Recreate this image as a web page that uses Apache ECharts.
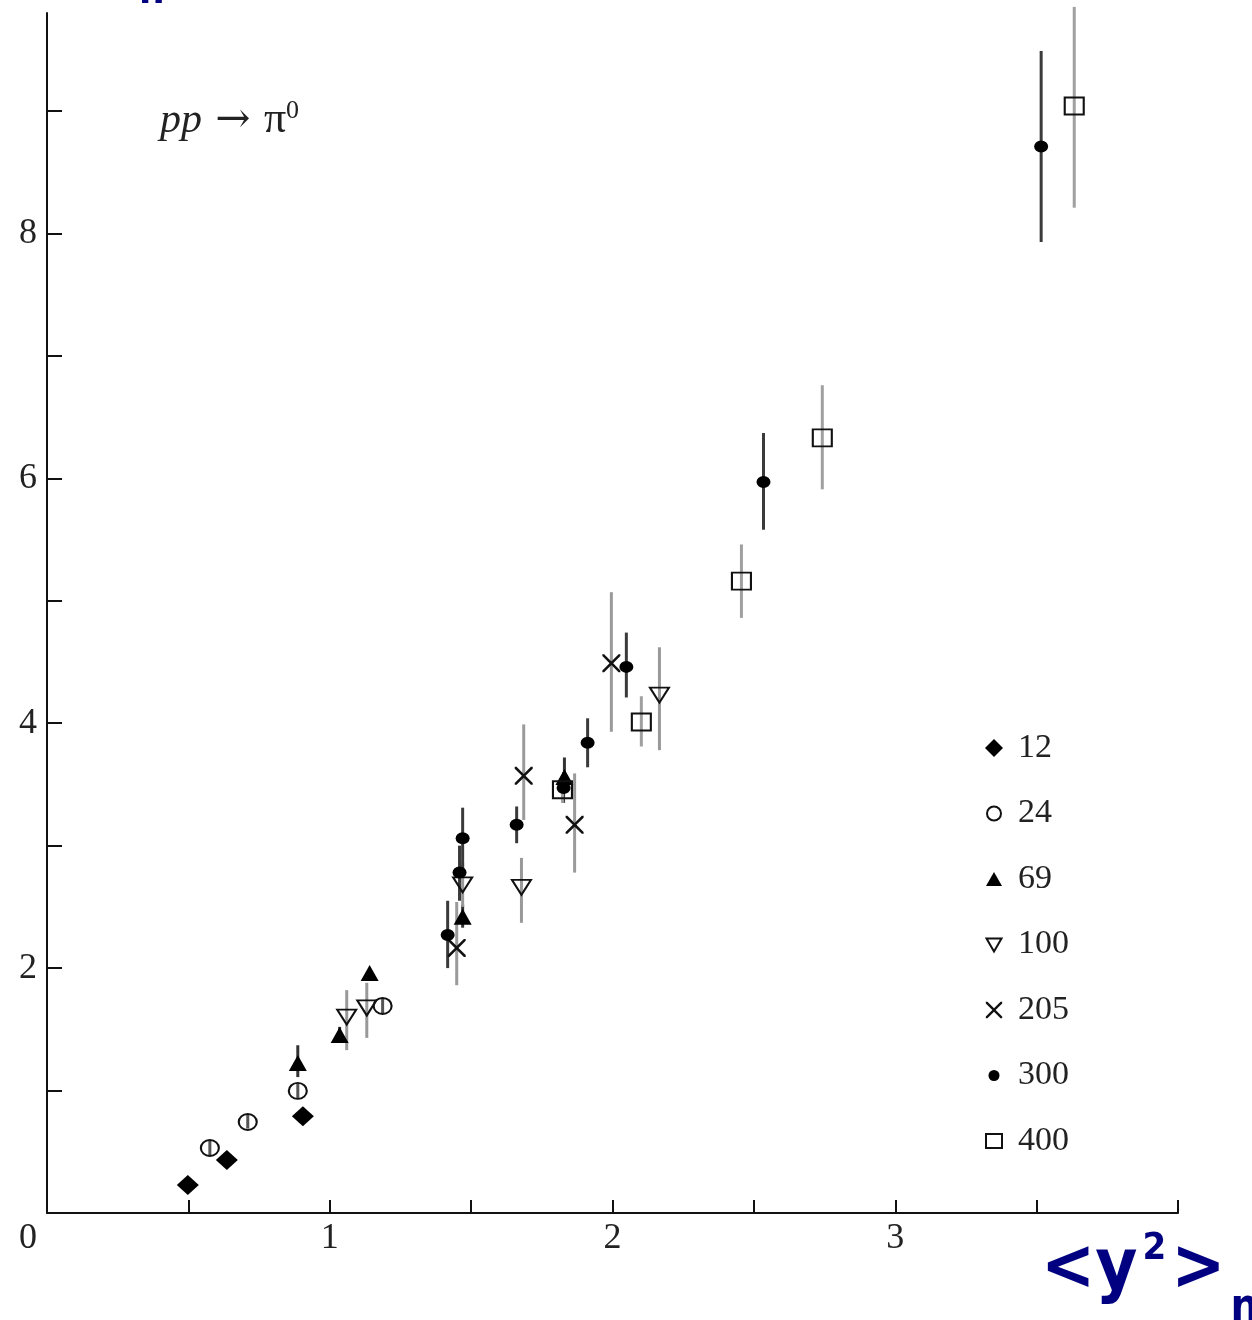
<!DOCTYPE html>
<html>
<head>
<meta charset="utf-8">
<script src="https://cdn.jsdelivr.net/npm/echarts@6/dist/echarts.min.js"></script>
<style>
html,body{margin:0;padding:0;background:#fff;}
#chart{width:1252px;height:1320px;}
</style>
</head>
<body>
<div id="chart"></div>
<script>
// ---------- data ----------
const seriesNames = ['12', '24', '69', '100', '205', '300', '400'];

const x12 = [0.498, 0.636, 0.905];
const y12 = [0.229, 0.433, 0.790];
const lo12 = [null, null, null];
const hi12 = [null, null, null];

const x24 = [0.576, 0.710, 0.887, 1.187];
const y24 = [0.531, 0.743, 0.997, 1.691];
const lo24 = [0.47, 0.69, 0.93, 1.63];
const hi24 = [0.59, 0.80, 1.06, 1.75];

const x69 = [0.887, 1.035, 1.141, 1.470, 1.830];
const y69 = [1.225, 1.454, 1.960, 2.420, 3.560];
const lo69 = [1.11, 1.40, null, 2.33, 3.45];
const hi69 = [1.37, 1.52, null, 2.52, 3.72];

const x100 = [1.060, 1.131, 1.470, 1.678, 2.166];
const y100 = [1.600, 1.675, 2.680, 2.660, 4.230];
const lo100 = [1.33, 1.43, 2.50, 2.37, 3.78];
const hi100 = [1.82, 1.88, 2.86, 2.90, 4.62];

const x205 = [1.449, 1.686, 1.866, 1.996];
const y205 = [2.165, 3.570, 3.170, 4.490];
const lo205 = [1.86, 3.21, 2.78, 3.93];
const hi205 = [2.54, 3.99, 3.59, 5.07];

const x300 = [1.417, 1.459, 1.470, 1.661, 1.827, 1.912, 2.049, 2.534, 3.516];
const y300 = [2.27, 2.78, 3.06, 3.17, 3.47, 3.84, 4.46, 5.97, 8.71];
const lo300 = [2.00, 2.55, 2.78, 3.02, 3.35, 3.64, 4.21, 5.58, 7.93];
const hi300 = [2.55, 3.00, 3.31, 3.32, 3.60, 4.04, 4.74, 6.37, 9.49];

const x400 = [1.823, 2.102, 2.456, 2.742, 3.633];
const y400 = [3.456, 4.010, 5.160, 6.330, 9.040];
const lo400 = [3.35, 3.81, 4.86, 5.91, 8.21];
const hi400 = [3.56, 4.22, 5.46, 6.76, 9.85];

const xTickValues = [0.5, 1, 1.5, 2, 2.5, 3, 3.5, 4];
const xLabelValues = [0, 1, 2, 3];
const yTickValues = [1, 2, 3, 4, 5, 6, 7, 8, 9];
const yLabelValues = [2, 4, 6, 8];

// ---------- styles ----------
const CROSS = 'path://M0,0 L2,0 L10,8 L18,0 L20,0 L20,2 L12,10 L20,18 L20,20 L18,20 L10,12 L2,20 L0,20 L0,18 L8,10 L0,2 Z';
const DOWNTRI = 'path://M0,0 L20,0 L10,17 Z';
// legend-only icons; the leading move points set the icon box so the glyph draws smaller
const LEG_CIRCLE = 'path://M0,0 M18,18 M9,2 A7,7 0 1 1 9,16 A7,7 0 1 1 9,2 Z';
const LEG_DOT = 'path://M0,0 M18,18 M9,3.5 A5.5,5.5 0 1 1 9,14.5 A5.5,5.5 0 1 1 9,3.5 Z';
const LEG_TRI = 'path://M0,0 M18,18 M9,2 L17,16 L1,16 Z';
const LEG_DOWN = 'path://M0,0 M18,18 M1.5,3 L16.5,3 L9,16 Z';
const LEG_RECT = 'path://M0,0 M18,18 M1,2 L17,2 L17,16 L1,16 Z';
const LEG_CROSS = 'path://M-1,-1 M21,21 M0,0 L2,0 L10,8 L18,0 L20,0 L20,2 L12,10 L20,18 L20,20 L18,20 L10,12 L2,20 L0,20 L0,18 L8,10 L0,2 Z';

const styles = {
  '12':  {symbol: 'diamond',  size: [22, 20], fill: '#000', border: null, bar: '#444', legendIcon: 'diamond'},
  '24':  {symbol: 'circle',   size: [18, 16], fill: 'rgba(0,0,0,0)', border: '#111', bar: '#555', legendIcon: LEG_CIRCLE},
  '69':  {symbol: 'triangle', size: [18, 16], fill: '#000', border: null, bar: '#333', legendIcon: LEG_TRI},
  '100': {symbol: DOWNTRI,    size: [19, 15], fill: 'rgba(0,0,0,0)', border: '#111', bar: '#999', legendIcon: LEG_DOWN},
  '205': {symbol: CROSS,      size: [18, 18], fill: '#111', border: null, bar: '#9a9a9a', legendIcon: LEG_CROSS},
  '300': {symbol: 'circle',   size: [14, 12], fill: '#000', border: null, bar: '#3a3a3a', legendIcon: LEG_DOT},
  '400': {symbol: 'rect',     size: [19, 17], fill: 'rgba(0,0,0,0)', border: '#111', bar: '#a0a0a0', legendIcon: LEG_RECT}
};
const groups = {
  '12': [x12, y12, lo12, hi12],
  '24': [x24, y24, lo24, hi24],
  '69': [x69, y69, lo69, hi69],
  '100': [x100, y100, lo100, hi100],
  '205': [x205, y205, lo205, hi205],
  '300': [x300, y300, lo300, hi300],
  '400': [x400, y400, lo400, hi400]
};

const series = [];
seriesNames.forEach(function (name) {
  const g = groups[name];
  const st = styles[name];
  const errData = [];
  for (let i = 0; i < g[0].length; i++) {
    if (g[2][i] != null) errData.push([g[0][i], g[2][i], g[3][i]]);
  }
  series.push({
    name: name + ' err',
    type: 'custom',
    clip: false,
    z: 1,
    silent: true,
    data: errData,
    encode: {x: 0, y: [1, 2]},
    renderItem: function (params, api) {
      const p1 = api.coord([api.value(0), api.value(1)]);
      const p2 = api.coord([api.value(0), api.value(2)]);
      return {
        type: 'line',
        shape: {x1: p1[0], y1: p1[1], x2: p2[0], y2: p2[1]},
        style: {stroke: st.bar, lineWidth: 3}
      };
    }
  });
  const pts = g[0].map(function (x, i) { return [x, g[1][i]]; });
  series.push({
    name: name,
    type: 'scatter',
    z: 3,
    symbol: st.symbol,
    symbolSize: st.size,
    data: pts,
    itemStyle: st.border ? {color: st.fill, borderColor: st.border, borderWidth: 2, opacity: 1}
                         : {color: st.fill, opacity: 1}
  });
});

const chart = echarts.init(document.getElementById('chart'), null, {renderer: 'canvas'});
chart.setOption({
  backgroundColor: '#ffffff',
  animation: false,
  title: [
    {
      text: '{i|pp}{n| \u2192 }{p|\u03c0}{s|0}',
      left: 160, top: 98, padding: 0,
      textStyle: {
        fontWeight: 'normal',
        rich: {
          i: {fontFamily: 'Liberation Serif', fontStyle: 'italic', fontWeight: 'normal', fontSize: 42, color: '#222', verticalAlign: 'bottom', lineHeight: 44},
          n: {fontFamily: 'DejaVu Serif', fontWeight: 'normal', fontSize: 42, color: '#222', verticalAlign: 'bottom', lineHeight: 44},
          p: {fontFamily: 'Liberation Serif', fontWeight: 'normal', fontSize: 44, color: '#222', verticalAlign: 'bottom', lineHeight: 44},
          s: {fontFamily: 'Liberation Serif', fontWeight: 'normal', fontSize: 26, color: '#222', verticalAlign: 'top', lineHeight: 26}
        }
      }
    },
    {
      text: '{a|<y}{s|2}{a|>}{n|n}',
      left: 1041, top: 1234, padding: 0,
      textStyle: {
        rich: {
          a: {fontFamily: 'DejaVu Sans Condensed', fontWeight: 'bold', fontSize: 72, color: '#000080', verticalAlign: 'top', lineHeight: 72},
          s: {fontFamily: 'DejaVu Sans Condensed', fontWeight: 'bold', fontSize: 38, color: '#000080', verticalAlign: 'top', lineHeight: 38, padding: [-4, 5, 0, 5]},
          n: {fontFamily: 'DejaVu Sans Condensed', fontWeight: 'bold', fontSize: 44, color: '#000080', verticalAlign: 'bottom', lineHeight: 97, padding: [0, 0, 0, 5]}
        }
      }
    },
    {
      text: 'n',
      left: 139, top: -27, padding: 0,
      textStyle: {fontFamily: 'DejaVu Sans Condensed', fontWeight: 'bold', fontSize: 40, color: '#000080'}
    }
  ],
  legend: {
    orient: 'vertical',
    left: 979, top: 726,
    itemWidth: 18, itemHeight: 18,
    itemGap: 31.5,
    itemTextGap: 20,
    selectedMode: false,
    data: seriesNames.map(function (n) { return {name: n, icon: styles[n].legendIcon}; }),
    textStyle: {fontFamily: 'Liberation Serif', fontSize: 34, color: '#222', padding: [0, 0, 0, 10]}
  },
  grid: {left: 47, right: 74, top: 13, bottom: 107, containLabel: false, outerBoundsMode: 'none'},
  xAxis: {
    type: 'value',
    min: 0, max: 4,
    interval: 0.5,
    splitLine: {show: false},
    axisLine: {show: true, lineStyle: {color: '#111', width: 2}},
    axisTick: {show: true, inside: true, length: 13, customValues: xTickValues, lineStyle: {color: '#111', width: 2}},
    axisLabel: {
      show: true,
      customValues: xLabelValues,
      margin: 8,
      fontFamily: 'Liberation Serif', fontSize: 36, color: '#222',
      formatter: function (v) { return v === 0 ? '{z|0}' : String(v); },
      rich: {z: {fontFamily: 'Liberation Serif', fontSize: 36, color: '#222', padding: [0, 38, 0, 0]}}
    }
  },
  yAxis: {
    type: 'value',
    min: 0, max: 9.8,
    interval: 1,
    splitLine: {show: false},
    axisLine: {show: true, lineStyle: {color: '#111', width: 2}},
    axisTick: {show: true, inside: true, length: 15, customValues: yTickValues, lineStyle: {color: '#111', width: 2}},
    axisLabel: {
      show: true,
      customValues: yLabelValues,
      margin: 10,
      fontFamily: 'Liberation Serif', fontSize: 36, color: '#222'
    }
  },
  series: series
});
</script>
</body>
</html>
